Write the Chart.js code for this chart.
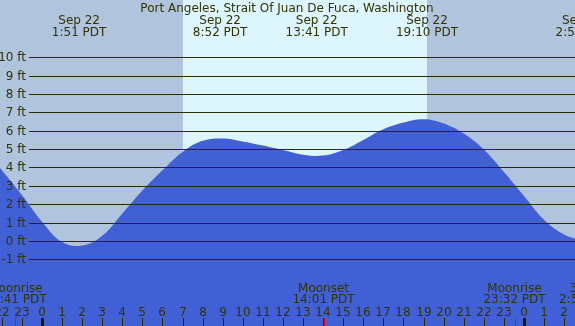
<!DOCTYPE html>
<html>
<head>
<meta charset="utf-8">
<script src="https://cdn.jsdelivr.net/npm/chart.js@4"></script>
<style>
  html, body { margin: 0; padding: 0; background: #b0c4de; }
  canvas { display: block; }
</style>
</head>
<body>
<canvas id="tide" width="575" height="326"></canvas>
<script>
// tide height (ft), hours since midnight Sep 22
const hours   = [-3, -2, -1, 0, 1, 2, 3, 4, 5, 6, 7, 8, 9, 10, 11, 12, 13, 14, 15, 16, 17, 18, 19, 20, 21, 22, 23, 24, 25, 26, 27];
const heights = [5.1, 3.85, 2.5, 1.05, -0.06, -0.25, 0.28, 1.5, 2.75, 3.85, 4.85, 5.45, 5.58, 5.42, 5.2, 4.95, 4.7, 4.65, 4.95, 5.5, 6.08, 6.45, 6.63, 6.4, 5.85, 4.98, 3.75, 2.45, 1.15, 0.35, 0.0];

const yTicks = [10, 9, 8, 7, 6, 5, 4, 3, 2, 1, 0, -1];
const hourTicks = [-2, -1, 0, 1, 2, 3, 4, 5, 6, 7, 8, 9, 10, 11, 12, 13, 14, 15, 16, 17, 18, 19, 20, 21, 22, 23, 24, 25, 26];

// high / low tides (top row)
const tideTimes  = [1.85, 8.87, 13.68, 19.17, 26.93];
const tideDates  = ['Sep 22', 'Sep 22', 'Sep 22', 'Sep 22', 'Sep 23'];
const tideLabels = ['1:51 PDT', '8:52 PDT', '13:41 PDT', '19:10 PDT', '2:56 PDT'];

// moon events (bottom row)
const moonTimes  = [-1.32, 14.02, 23.53, 27.1];
const moonNames  = ['Moonrise', 'Moonset', 'Moonrise', '3rd Q'];
const moonLabels = ['22:41 PDT', '14:01 PDT', '23:32 PDT', '2:57 PDT'];
const moonMarks  = [-1.32, 14.02, 23.53];

const sunrise = 7.02;
const sunset = 19.17;

const TXT = '#333300';
const FONT = '12px "DejaVu Sans"';

const decor = {
  id: 'decor',
  beforeDraw(chart) {
    const { ctx, scales: { x }, width, height } = chart;
    ctx.save();
    ctx.fillStyle = '#b0c4de';
    ctx.fillRect(0, 0, width, height);
    const x1 = x.getPixelForValue(sunrise), x2 = x.getPixelForValue(sunset);
    ctx.fillStyle = '#ddf6fd';
    ctx.fillRect(x1, 0, x2 - x1, height);
    ctx.restore();
  },
  afterDatasetsDraw(chart) {
    const { ctx, scales: { x, y }, width, height } = chart;
    ctx.save();
    ctx.font = FONT;
    ctx.fillStyle = TXT;

    // horizontal ft lines + labels
    ctx.strokeStyle = '#2b2b00';
    ctx.lineWidth = 1;
    yTicks.forEach(v => {
      const py = Math.round(y.getPixelForValue(v)) + 0.5;
      ctx.beginPath(); ctx.moveTo(29, py); ctx.lineTo(width, py); ctx.stroke();
      ctx.textAlign = 'right'; ctx.textBaseline = 'middle';
      ctx.fillText(v + ' ft', 26, py);
    });

    // title
    ctx.textAlign = 'center'; ctx.textBaseline = 'alphabetic';
    ctx.fillText('Port Angeles, Strait Of Juan De Fuca, Washington', 287, 12);

    // tide events
    tideTimes.forEach((t, i) => {
      const px = x.getPixelForValue(t);
      ctx.fillText(tideDates[i], px, 24);
      ctx.fillText(tideLabels[i], px, 36);
    });

    // moon events
    moonTimes.forEach((t, i) => {
      const px = x.getPixelForValue(t);
      ctx.fillText(moonNames[i], px, 292);
      ctx.fillText(moonLabels[i], px, 303);
    });

    // hour labels + ticks
    hourTicks.forEach(h => {
      const px = Math.round(x.getPixelForValue(h));
      const lab = ((h % 24) + 24) % 24;
      ctx.fillStyle = TXT;
      ctx.fillText(String(lab), px, 316);
      if (lab === 0) {
        ctx.fillStyle = '#1a1a00';
        ctx.fillRect(px - 1, 318, 3, height - 318);
      } else {
        ctx.fillStyle = '#2b2b00';
        ctx.fillRect(px, 318, 1, height - 318);
      }
    });
    ctx.fillStyle = '#ff0000';
    moonMarks.forEach(t => {
      const px = Math.round(x.getPixelForValue(t));
      ctx.fillRect(px, 318, 1, height - 318);
    });
    ctx.restore();
  }
};

new Chart(document.getElementById('tide'), {
  type: 'line',
  data: {
    datasets: [{
      data: hours.map((h, i) => ({ x: h, y: heights[i] })),
      fill: 'start',
      backgroundColor: '#4160d6',
      borderWidth: 0,
      pointRadius: 0,
      tension: 0.4
    }]
  },
  options: {
    responsive: false,
    animation: false,
    layout: { padding: 0 },
    plugins: { legend: { display: false }, tooltip: { enabled: false } },
    scales: {
      x: { type: 'linear', min: -2.09, max: 26.54, display: false },
      y: { min: -4.63, max: 13.12, display: false }
    }
  },
  plugins: [decor]
});
</script>
</body>
</html>
